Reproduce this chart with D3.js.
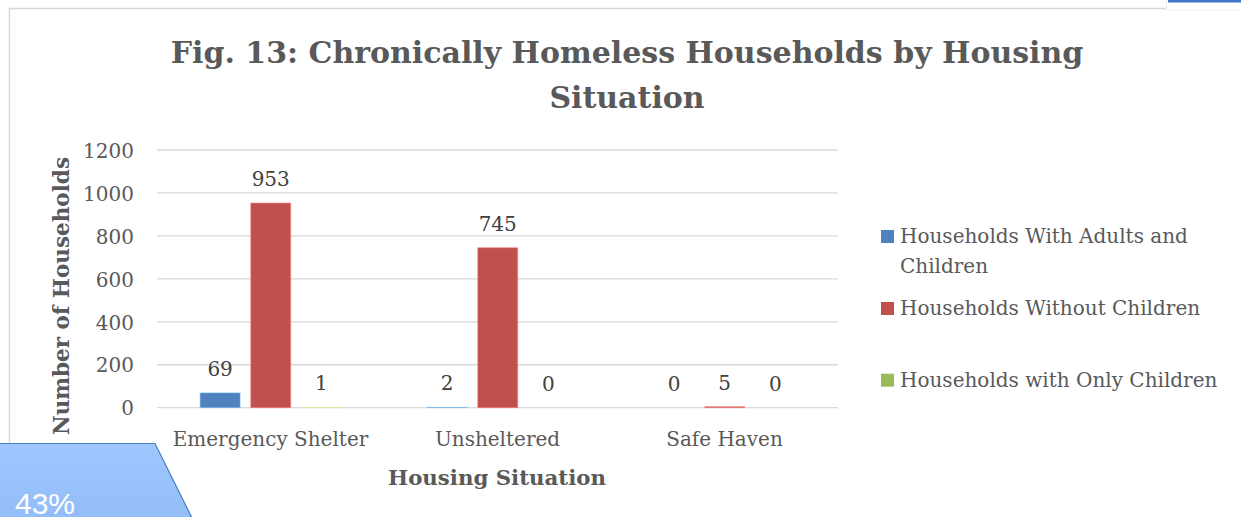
<!DOCTYPE html>
<html>
<head>
<meta charset="utf-8">
<script src="https://cdn.jsdelivr.net/npm/d3@7"></script>
<style>
  html, body { margin: 0; padding: 0; background: #fff; }
  svg { display: block; }
</style>
</head>
<body>
<svg id="chart" width="1241" height="517"></svg>
<script>
const categories = ["Emergency Shelter", "Unsheltered", "Safe Haven"];
const seriesNames = ["Households With Adults and Children", "Households Without Children", "Households with Only Children"];
const adultsAndChildren = [69, 2, 0];
const withoutChildren = [953, 745, 5];
const onlyChildren = [1, 0, 0];
const yTicks = [0, 200, 400, 600, 800, 1000, 1200];
const colors = ["#4F81BD", "#C0504D", "#9BBB59"];

const seriesValues = [adultsAndChildren, withoutChildren, onlyChildren];
const svg = d3.select("#chart");
const serif = "'DejaVu Serif', 'Liberation Serif', serif";
const textColor = "#595959";

// chart frame (right edge beyond the picture)
svg.append("rect").attr("x", 9.5).attr("y", 8.5).attr("width", 1300).attr("height", 530)
  .attr("fill", "#fff").attr("stroke", "#D9D9D9").attr("stroke-width", 1.5);

// top-right artefact
svg.append("rect").attr("x", 1166.5).attr("y", -3).attr("width", 80).attr("height", 13)
  .attr("fill", "#fff").attr("stroke", "#EFEFEF").attr("stroke-width", 1);
svg.append("rect").attr("x", 1168).attr("y", -2).attr("width", 80).attr("height", 4.5)
  .attr("fill", "#3F78C8");

const plotLeft = 157, plotRight = 838, plotTop = 150, plotBottom = 407.7;

const x0 = d3.scaleBand().domain(categories).range([plotLeft, plotRight]).padding(0);
const x1 = d3.scaleBand().domain(d3.range(seriesNames.length))
  .range([x0.bandwidth() * 0.19, x0.bandwidth() * 0.812]).paddingInner(0.21).paddingOuter(0);
const y = d3.scaleLinear().domain([0, 1200]).range([plotBottom, plotTop]);

// gridlines
svg.append("g").selectAll("line").data(yTicks).join("line")
  .attr("x1", plotLeft).attr("x2", plotRight)
  .attr("y1", d => y(d)).attr("y2", d => y(d))
  .attr("stroke", "#D9D9D9").attr("stroke-width", 1.3);

// y axis labels
const yAxis = d3.axisLeft(y).tickValues(yTicks).tickFormat(d3.format("d")).tickSize(0).tickPadding(0);
const yg = svg.append("g").attr("transform", `translate(${plotLeft - 23},0)`).call(yAxis);
yg.select(".domain").remove();
yg.selectAll("text").attr("font-family", serif).attr("font-size", 20).attr("fill", textColor).attr("dy", "0.36em");

// x axis labels
const xAxis = d3.axisBottom(x0).tickSize(0).tickPadding(0);
const xg = svg.append("g").attr("transform", `translate(0,${plotBottom})`).call(xAxis);
xg.select(".domain").remove();
xg.selectAll("text").attr("font-family", serif).attr("font-size", 20).attr("fill", textColor)
  .attr("dy", null).attr("y", 38);

// bars
const groups = svg.append("g").selectAll("g").data(categories).join("g")
  .attr("transform", d => `translate(${x0(d)},0)`);

groups.each(function(cat, ci) {
  const g = d3.select(this);
  seriesNames.forEach((s, si) => {
    const v = seriesValues[si][ci];
    g.append("rect")
      .attr("x", x1(si)).attr("width", x1.bandwidth())
      .attr("y", y(v)).attr("height", Math.max(0, y(0) - y(v)))
      .attr("fill", colors[si])
      .attr("stroke", d3.color(colors[si]).brighter(1.2)).attr("stroke-opacity", 0.5).attr("stroke-width", 1);
    g.append("text")
      .attr("x", x1(si) + x1.bandwidth() / 2).attr("y", y(v) - 17)
      .attr("text-anchor", "middle").attr("font-family", serif).attr("font-size", 20)
      .attr("fill", "#404040").text(v);
  });
});

// title
const title = svg.append("text").attr("text-anchor", "middle").attr("font-family", serif)
  .attr("font-weight", "bold").attr("font-size", 30).attr("fill", textColor);
title.append("tspan").attr("x", 627).attr("y", 63).text("Fig. 13: Chronically Homeless Households by Housing");
title.append("tspan").attr("x", 627).attr("y", 108).text("Situation");

// axis titles
svg.append("text").attr("transform", `translate(69,296) rotate(-90)`).attr("text-anchor", "middle")
  .attr("font-family", serif).attr("font-weight", "bold").attr("font-size", 21.5).attr("fill", textColor)
  .text("Number of Households");
svg.append("text").attr("x", 497).attr("y", 485).attr("text-anchor", "middle")
  .attr("font-family", serif).attr("font-weight", "bold").attr("font-size", 21.3).attr("fill", textColor)
  .text("Housing Situation");

// legend
const legendItems = [
  { lines: ["Households With Adults and", "Children"], y: 243 },
  { lines: ["Households Without Children"], y: 315 },
  { lines: ["Households with Only Children"], y: 386.7 }
];
const lg = svg.append("g");
legendItems.forEach((item, i) => {
  lg.append("rect").attr("x", 881).attr("y", item.y - 13).attr("width", 13).attr("height", 13).attr("fill", colors[i]);
  const t = lg.append("text").attr("font-family", serif).attr("font-size", 20).attr("fill", textColor);
  item.lines.forEach((ln, li) => {
    t.append("tspan").attr("x", 900).attr("y", item.y + li * 29.7).text(ln);
  });
});

// bottom-left overlay shape
const defs = svg.append("defs");
const grad = defs.append("linearGradient").attr("id", "tg").attr("x1", 0).attr("y1", 0).attr("x2", 0).attr("y2", 1);
grad.append("stop").attr("offset", "0%").attr("stop-color", "#A0C6FF");
grad.append("stop").attr("offset", "100%").attr("stop-color", "#93BDF8");
svg.append("path").attr("d", "M-2,443.5 L155,443.5 L193,520 L-2,520 Z")
  .attr("fill", "url(#tg)").attr("stroke", "#4A7BBE").attr("stroke-width", 1.2);
svg.append("text").attr("x", 15).attr("y", 514).attr("font-family", "'Liberation Sans', Arial, sans-serif")
  .attr("font-size", 30).attr("fill", "#fff").text("43%");
</script>
</body>
</html>
